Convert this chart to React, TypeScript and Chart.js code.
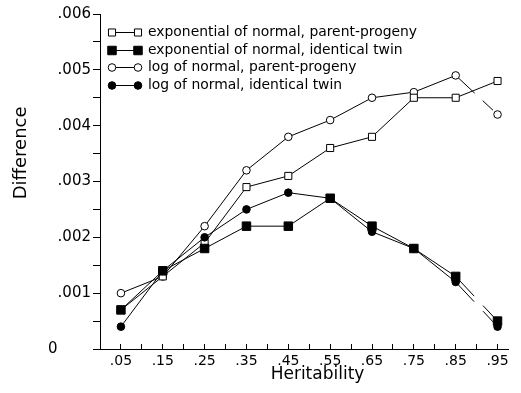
import React, { useEffect, useRef } from 'react';
import { Chart, registerables } from 'chart.js';

Chart.register(...registerables);

const heritability = [0.05, 0.15, 0.25, 0.35, 0.45, 0.55, 0.65, 0.75, 0.85, 0.95];
const expParentProgeny = [0.0007, 0.0013, 0.0019, 0.0029, 0.0031, 0.0036, 0.0038, 0.0045, 0.0045, 0.0048];
const expIdenticalTwin = [0.0007, 0.0014, 0.0018, 0.0022, 0.0022, 0.0027, 0.0022, 0.0018, 0.0013, 0.0005];
const logParentProgeny = [0.0010, 0.0013, 0.0022, 0.0032, 0.0038, 0.0041, 0.0045, 0.0046, 0.0049, 0.0042];
const logIdenticalTwin = [0.0004, 0.0014, 0.0020, 0.0025, 0.0028, 0.0027, 0.0021, 0.0018, 0.0012, 0.0004];
const seriesLabels = [
  'exponential of normal, parent-progeny',
  'exponential of normal, identical twin',
  'log of normal, parent-progeny',
  'log of normal, identical twin',
];
const xTitle = 'Heritability';
const yTitle = 'Difference';

const FONT = '"DejaVu Sans", sans-serif';

const toPoints = (ys: number[]) => heritability.map((x, i) => ({ x, y: ys[i] }));

const brokenLast = (pattern: number[]) => ({
  borderDash: (ctx: any) => (ctx.p1DataIndex === 9 ? pattern : undefined),
});

const legendPlugin = {
  id: 'lineLegend',
  afterDatasetsDraw(chart: any) {
    const ctx = chart.ctx as CanvasRenderingContext2D;
    const { left, top } = chart.chartArea;
    ctx.save();
    chart.data.datasets.forEach((ds: any, i: number) => {
      const y = Math.round(top + 18 + i * 17.7) + 0.5;
      const x1 = left + 12;
      const x2 = left + 38;
      ctx.strokeStyle = '#000';
      ctx.lineWidth = 1;
      ctx.setLineDash([]);
      ctx.beginPath();
      ctx.moveTo(x1, y);
      ctx.lineTo(x2, y);
      ctx.stroke();
      [x1, x2].forEach((x) => {
        ctx.fillStyle = ds.pointBackgroundColor;
        ctx.beginPath();
        if (ds.pointStyle === 'rect') {
          const s = Math.SQRT1_2 * ds.pointRadius;
          ctx.rect(x - s, y - s, 2 * s, 2 * s);
        } else {
          ctx.arc(x, y, ds.pointRadius, 0, Math.PI * 2);
        }
        ctx.fill();
        ctx.stroke();
      });
      ctx.fillStyle = '#000';
      ctx.font = '13.9px ' + FONT;
      ctx.textBaseline = 'middle';
      ctx.textAlign = 'left';
      ctx.fillText(ds.label, left + 48, y);
    });
    ctx.restore();
  },
};

export default function App() {
  const ref = useRef<HTMLCanvasElement>(null);
  useEffect(() => {
    document.body.style.margin = '0';
    const common = { borderColor: '#000', borderWidth: 1, pointBorderColor: '#000', pointBorderWidth: 1, showLine: true };
    const chart = new Chart(ref.current!, {
      type: 'scatter',
      data: {
        datasets: [
          { ...common, label: seriesLabels[0], data: toPoints(expParentProgeny), pointStyle: 'rect', pointRadius: 5, pointBackgroundColor: '#fff', order: 1 },
          { ...common, label: seriesLabels[1], data: toPoints(expIdenticalTwin), pointStyle: 'rect', pointRadius: 6, pointBackgroundColor: '#000', order: 0, segment: brokenLast([27, 13]) },
          { ...common, label: seriesLabels[2], data: toPoints(logParentProgeny), pointStyle: 'circle', pointRadius: 3.8, pointBackgroundColor: '#fff', order: 1, segment: brokenLast([26, 11, 14, 20]) },
          { ...common, label: seriesLabels[3], data: toPoints(logIdenticalTwin), pointStyle: 'circle', pointRadius: 3.8, pointBackgroundColor: '#000', order: 0, segment: brokenLast([27, 13]) },
        ] as any,
      },
      options: {
        animation: false,
        responsive: true,
        maintainAspectRatio: false,
        events: [],
        layout: { padding: { top: 14, right: 13, left: 0, bottom: 0 } },
        plugins: { legend: { display: false }, tooltip: { enabled: false } },
        scales: {
          x: {
            type: 'linear',
            min: 0,
            max: 0.975,
            afterFit: (s: any) => { s.height = 44; },
            ticks: {
              stepSize: 0.05,
              includeBounds: false,
              autoSkip: false,
              maxRotation: 0,
              color: '#000',
              font: { family: FONT, size: 14 },
              padding: 9,
              callback: (v: any) => {
                const k = Math.round(Number(v) / 0.05);
                return k % 2 === 1 ? '.' + String(k * 5).padStart(2, '0') : '';
              },
            },
            grid: { drawOnChartArea: false, color: '#000', tickColor: '#000', tickLength: -5 },
            border: { color: '#000', width: 1 },
            title: { display: true, text: '     ' + xTitle, color: '#000', font: { family: FONT, size: 17 }, padding: { top: 0, bottom: 8 } },
          },
          y: {
            type: 'linear',
            min: 0,
            max: 0.006,
            afterFit: (s: any) => { s.width = 100; },
            ticks: {
              stepSize: 0.0005,
              autoSkip: false,
              color: '#000',
              font: { family: FONT, size: 15 },
              padding: 2,
              callback: (v: any) => {
                const k = Math.round(Number(v) / 0.0005);
                if (k === 0) return '0       ';
                return k % 2 === 0 ? '.00' + k / 2 : '';
              },
            },
            grid: { drawOnChartArea: false, color: '#000', tickColor: '#000', tickLength: 7 },
            border: { color: '#000', width: 1 },
            title: { display: true, text: '          ' + yTitle, color: '#000', font: { family: FONT, size: 18 }, padding: { top: 11, bottom: 0 } },
          },
        },
      },
      plugins: [legendPlugin],
    });
    return () => chart.destroy();
  }, []);
  return (
    <div style={{ position: 'relative', width: 521, height: 393 }}>
      <canvas ref={ref} />
    </div>
  );
}
